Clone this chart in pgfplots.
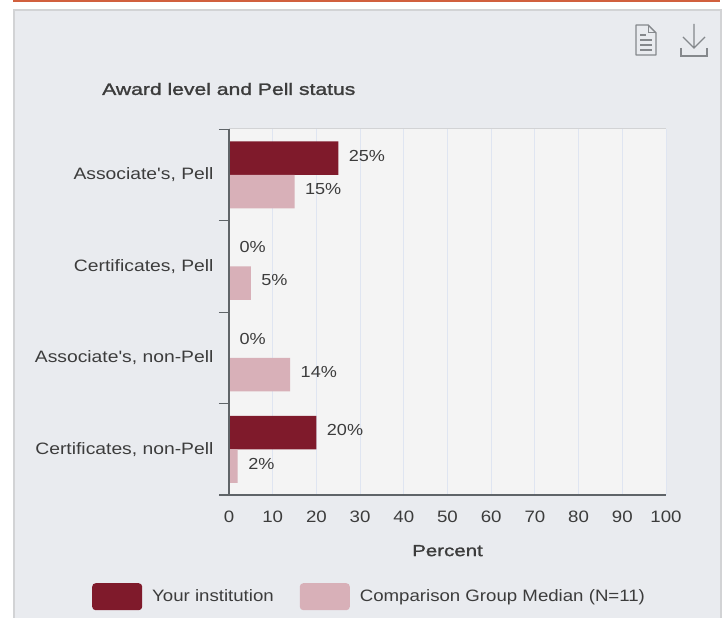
\documentclass[border=0pt]{standalone}
\usepackage{fontspec}
\setmainfont{Liberation Sans}[FakeStretch=1.13]
\newfontfamily\titlefont{Liberation Sans}[FakeStretch=1.28,FakeBold=1.5]
\newfontfamily\catfont{Liberation Sans}[FakeStretch=1.17]
\usepackage{pgfplots}
\pgfplotsset{compat=1.18}
\definecolor{panelbg}{HTML}{E9EBEF}
\definecolor{panelline}{HTML}{D2D3D5}
\definecolor{topbar}{HTML}{D1603E}
\definecolor{plotbg}{HTML}{F4F4F4}
\definecolor{gridblue}{HTML}{DFE5F1}
\definecolor{axisgrey}{HTML}{5F6468}
\definecolor{icongrey}{HTML}{85888C}
\definecolor{txt}{HTML}{3C3C3C}
\definecolor{darkbar}{HTML}{7F1A2B}
\definecolor{lightbar}{HTML}{D8B0B8}
\begin{document}
\begin{tikzpicture}[x=1pt,y=1pt]
% page and panel, y counted from the bottom of the 726x618 frame
\path[use as bounding box,fill=white] (0,0) rectangle (726,618);
\fill[topbar] (13,616) rectangle (720,618);
\fill[panelline] (13,0) rectangle (722,609);
\fill[panelbg] (15,0) rectangle (720,607);
% icons
\draw[icongrey,line width=1.4pt,line join=round] (636,593) -- (636,563) -- (656,563) -- (656,585) -- (648,593) -- cycle;
\draw[icongrey,line width=1pt] (648,593) -- (648,585) -- (656,585);
\draw[icongrey,line width=1.2pt] (640,583) -- (646,583) (640,578) -- (652,578) (640,573) -- (652,573) (640,568) -- (652,568);
\draw[icongrey,line width=1.2pt] (694,594) -- (694,570) (683,581) -- (694,570) -- (705,581);
\draw[icongrey,line width=1.2pt] (681,570) -- (681,562) -- (707,562) -- (707,570);
\node[anchor=west,text=txt,font=\titlefont\fontsize{16.5}{18}\selectfont,inner sep=0pt] at (102,529) {Award level and Pell status};
\begin{axis}[
  at={(229pt,123pt)},
  anchor=south west,
  scale only axis,
  width=437pt,
  height=366pt,
  xbar=0pt,
  bar width=33.5pt,
  y dir=reverse,
  xmin=0, xmax=100,
  ymin=-0.5, ymax=3.5,
  xtick={0,10,...,100},
  ytick={0,1,2,3},
  yticklabels={{Associate's, Pell},{Certificates, Pell},{Associate's, non-Pell},{Certificates, non-Pell}},
  minor ytick={-0.5,0.5,1.5,2.5,3.5},
  ytick pos=left,
  xmajorgrids,
  major grid style={gridblue,line width=1pt},
  major tick length=0pt,
  minor tick length=10pt,
  tick style={axisgrey,line width=1pt},
  axis background/.style={fill=plotbg},
  axis line style={draw=none},
  tick label style={text=txt,font=\fontsize{16.5}{18}\selectfont},
  x tick label style={yshift=-12pt},
  y tick label style={xshift=-12pt,font=\catfont\fontsize{16.5}{18}\selectfont},
  /pgf/number format/assume math mode=true,
  xlabel={Percent},
  xlabel style={text=txt,font=\titlefont\fontsize{16}{18}\selectfont,yshift=-16pt},
  nodes near coords={\pgfmathprintnumber{\pgfplotspointmeta}\%},
  point meta=x,
  nodes near coords align={horizontal},
  every node near coord/.append style={text=txt,font=\fontsize{16}{18}\selectfont,xshift=7pt,yshift=2.5pt},
  legend columns=2,
  legend style={
    at={(-0.3135,-0.2404)},anchor=north west,
    draw=none,fill=none,inner sep=0pt,
    font=\fontsize{16.5}{18}\selectfont,text=txt,
    /tikz/column 1/.style={column sep=8pt},
    /tikz/column 2/.style={column sep=24pt},
    /tikz/column 3/.style={column sep=8pt},
  },
  legend image code/.code={
    \draw[#1,rounded corners=3.5pt,draw=none] (0pt,-13.5pt) rectangle (50pt,13.5pt);
  },
  clip=false,
]
\addplot[fill=darkbar,draw=none,bar shift=16.75pt] coordinates {(25,0) (0,1) (0,2) (20,3)};
\addplot[fill=lightbar,draw=none,bar shift=-16.75pt] coordinates {(15,0) (5,1) (14,2) (2,3)};
\legend{Your institution,Comparison Group Median (N=11)}
\end{axis}
% axis lines over the bars: top and right stay pale, left and bottom dark
\draw[panelline,line width=1pt] (229,489) -- (666,489);
\draw[axisgrey,line width=1.2pt] (229,489) -- (229,123);
\draw[axisgrey,line width=1.2pt] (219,123) -- (666,123);
\end{tikzpicture}
\end{document}
